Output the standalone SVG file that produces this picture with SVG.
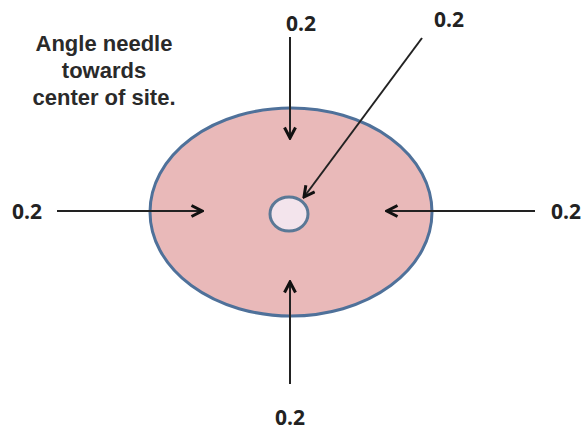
<svg xmlns="http://www.w3.org/2000/svg" width="586" height="434" viewBox="0 0 586 434">
<defs>
<style>
.lbl{font-family:"Open Sans","Liberation Sans",Arial,sans-serif;font-weight:bold;font-size:21px;fill:#222;text-anchor:middle}
.note{font-family:"Liberation Sans",Arial,sans-serif;font-weight:bold;font-size:22px;fill:#2a2a2a;text-anchor:middle}
.arr{stroke:#222;stroke-width:2;fill:none;marker-end:url(#open)}
</style>
<marker id="open" viewBox="0 0 14 14" refX="12" refY="7" markerWidth="14" markerHeight="14" markerUnits="userSpaceOnUse" orient="auto">
<path d="M1.5,1.5 L12,7 L1.5,12.5" fill="none" stroke="#111" stroke-width="3" stroke-linejoin="miter"/>
</marker>
</defs>
<rect width="586" height="434" fill="#ffffff"/>
<g id="site">
<ellipse cx="291" cy="212" rx="141" ry="104" fill="#e9b9b9" stroke="#4f719a" stroke-width="3"/>
</g>
<g id="center">
<ellipse cx="289" cy="214" rx="19" ry="17" fill="#f3e4ec" stroke="#5a7896" stroke-width="3"/>
</g>
<g id="note">
<text class="note" x="104" y="51">Angle needle</text>
<text class="note" x="104" y="78">towards</text>
<text class="note" x="104" y="105">center of site.</text>
</g>
<g id="labels">
<text class="lbl" x="301" y="31">0.2</text>
<text class="lbl" x="449" y="27">0.2</text>
<text class="lbl" x="27" y="219">0.2</text>
<text class="lbl" x="566" y="219">0.2</text>
<text class="lbl" x="290" y="425">0.2</text>
</g>
<g id="connectors">
<line class="arr" x1="290" y1="37" x2="290" y2="138"/>
<line class="arr" x1="422" y1="38" x2="304" y2="197"/>
<line class="arr" x1="57" y1="211" x2="202" y2="211"/>
<line class="arr" x1="535" y1="211" x2="387" y2="211"/>
<line class="arr" x1="290" y1="384" x2="290" y2="282"/>
</g>
</svg>
